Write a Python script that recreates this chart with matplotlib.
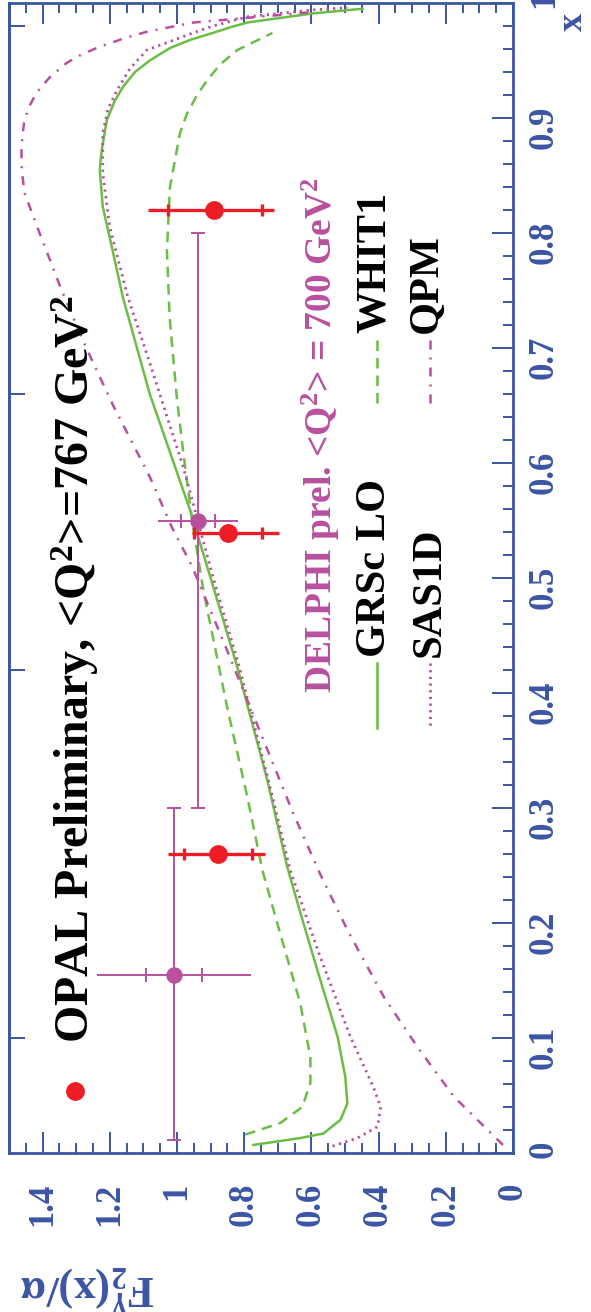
import numpy as np
import matplotlib
matplotlib.use('Agg')
from matplotlib import pyplot as plt
from matplotlib.ticker import MultipleLocator

plt.rcParams['font.family'] = ['Liberation Serif', 'DejaVu Serif']
plt.rcParams['font.weight'] = 'bold'
plt.rcParams['mathtext.fontset'] = 'custom'
plt.rcParams['mathtext.rm'] = 'Liberation Serif:bold'
plt.rcParams['mathtext.bf'] = 'Liberation Serif:bold'
plt.rcParams['mathtext.it'] = 'Liberation Serif:bold:italic'
plt.rcParams['mathtext.default'] = 'bf'

BLUE = '#3b55a5'
GREEN = '#6cbd45'
MAG = '#b8509e'
RED = '#ee1c24'

# theory curves, x vs F2/alpha
grsc_x = [0.007, 0.013, 0.017, 0.029, 0.043, 0.066, 0.101, 0.15, 0.209, 0.249, 0.324, 0.423,
          0.501, 0.559, 0.66, 0.744, 0.788, 0.823, 0.855, 0.872, 0.898, 0.915, 0.927, 0.940,
          0.950, 0.961, 0.968, 0.974, 0.979, 0.983, 0.987, 0.991, 0.995]
grsc_f2 = [0.773, 0.633, 0.564, 0.513, 0.493, 0.499, 0.522, 0.573, 0.633, 0.672, 0.731, 0.821,
           0.901, 0.961, 1.081, 1.161, 1.194, 1.221, 1.230, 1.224, 1.209, 1.185, 1.161, 1.125,
           1.081, 1.02, 0.96, 0.893, 0.84, 0.791, 0.693, 0.594, 0.448]

whit_x = [0.016, 0.026, 0.04, 0.061, 0.083, 0.13, 0.191, 0.246, 0.31, 0.388, 0.49, 0.55, 0.611,
          0.655, 0.727, 0.785, 0.84, 0.887, 0.904, 0.92, 0.933, 0.947, 0.959, 0.974]
whit_f2 = [0.797, 0.693, 0.627, 0.603, 0.603, 0.633, 0.693, 0.746, 0.791, 0.851, 0.922, 0.955,
           0.982, 1.0, 1.022, 1.03, 1.021, 0.991, 0.97, 0.94, 0.91, 0.87, 0.821, 0.716]

sas_x = [0.006, 0.013, 0.023, 0.04, 0.057, 0.101, 0.177, 0.246, 0.324, 0.423, 0.5, 0.597, 0.687,
         0.744, 0.805, 0.852, 0.887, 0.908, 0.924, 0.943, 0.959, 0.974, 0.98, 0.988, 0.991,
         0.994, 0.996]
sas_f2 = [0.537, 0.463, 0.403, 0.394, 0.415, 0.484, 0.582, 0.663, 0.728, 0.815, 0.892, 0.982,
          1.081, 1.146, 1.2, 1.221, 1.221, 1.205, 1.179, 1.14, 1.09, 0.952, 0.893, 0.791, 0.693,
          0.594, 0.493]

qpm_x = [0.007, 0.049, 0.092, 0.136, 0.194, 0.242, 0.296, 0.368, 0.44, 0.51, 0.544, 0.588, 0.65,
         0.70, 0.75, 0.80, 0.835, 0.855, 0.872, 0.885, 0.898, 0.91, 0.922, 0.935, 0.948, 0.955,
         0.962, 0.969, 0.975, 0.983, 0.992]
qpm_f2 = [0.03, 0.176, 0.284, 0.385, 0.493, 0.573, 0.655, 0.755, 0.855, 0.955, 1.015, 1.081, 1.19,
          1.27, 1.343, 1.409, 1.454, 1.462, 1.463, 1.46, 1.454, 1.44, 1.418, 1.38, 1.328, 1.285,
          1.23, 1.16, 1.09, 0.952, 0.6]

# OPAL data
opal_x = np.array([0.26, 0.539, 0.82])
opal_f2 = np.array([0.878, 0.848, 0.89])
opal_tot_lo = np.array([0.141, 0.152, 0.179])
opal_tot_hi = np.array([0.149, 0.107, 0.197])
opal_stat_lo = np.array([0.102, 0.102, 0.144])
opal_stat_hi = np.array([0.101, 0.101, 0.137])

# DELPHI data
delphi_x = np.array([0.155, 0.55])
delphi_x_lo = np.array([0.011, 0.30])
delphi_x_hi = np.array([0.30, 0.80])
delphi_f2 = np.array([1.009, 0.937])
delphi_tot = np.array([0.23, 0.12])
delphi_stat = np.array([0.084, 0.05])

f2_ticks = [0, 0.2, 0.4, 0.6, 0.8, 1.0, 1.2, 1.4]
f2_labels = ['0', '0.2', '0.4', '0.6', '0.8', '1', '1.2', '1.4']
x_ticks = [0, 0.1, 0.2, 0.3, 0.4, 0.5, 0.6, 0.7, 0.8, 0.9, 1.0]
x_labels = ['0', '0.1', '0.2', '0.3', '0.4', '0.5', '0.6', '0.7', '0.8', '0.9', '1']
left_ticks = [0.1, 0.42, 0.66, 0.98]

DOT = (0, (0.8, 1.6))
DASH = (0, (4.2, 2.8))
DASHDOT = (0, (3.6, 3.2, 0.8, 3.2))
LW = 1.8

fig = plt.figure(figsize=(5.91, 13.12), dpi=100)
ax = fig.add_axes([9 / 591, 159 / 1312, 504 / 591, 1150 / 1312])
ax.set_xlim(1.5, 0)
ax.set_ylim(0, 1)

ax.plot(grsc_f2, grsc_x, color=GREEN, lw=LW)
ax.plot(whit_f2, whit_x, color=GREEN, lw=LW, ls=DASH)
ax.plot(sas_f2, sas_x, color=MAG, lw=2.0, ls=DOT)
ax.plot(qpm_f2, qpm_x, color=MAG, lw=LW, ls=DASHDOT)

# DELPHI points
ax.errorbar(delphi_f2, delphi_x, yerr=[delphi_x - delphi_x_lo, delphi_x_hi - delphi_x],
            fmt='none', ecolor=MAG, elinewidth=1.4, capsize=5, capthick=1.4)
ax.errorbar(delphi_f2, delphi_x, xerr=delphi_tot, fmt='o', color=MAG, ms=10.8,
            elinewidth=1.4, capsize=0)
ax.plot(np.r_[delphi_f2 - delphi_stat, delphi_f2 + delphi_stat], np.r_[delphi_x, delphi_x],
        ls='none', marker='|', ms=9.5, mew=1.4, color=MAG)

# OPAL points
ax.errorbar(opal_f2, opal_x, xerr=[opal_tot_lo, opal_tot_hi], fmt='o', color=RED, ms=12.5,
            elinewidth=2.4, capsize=0, zorder=5)
ax.plot(np.r_[opal_f2 - opal_stat_lo, opal_f2 + opal_stat_hi], np.r_[opal_x, opal_x],
        ls='none', marker='|', ms=9, mew=2.4, color=RED, zorder=5)

# axes styling
for s in ax.spines.values():
    s.set_color(BLUE)
    s.set_linewidth(2)
ax.set_xticks(f2_ticks, labels=f2_labels)
ax.xaxis.set_minor_locator(MultipleLocator(0.05))
ax.set_yticks(x_ticks, labels=x_labels)
ax.yaxis.set_minor_locator(MultipleLocator(0.02))
ax.tick_params(axis='both', which='both', direction='in', color=BLUE, width=1.4,
               labelcolor=BLUE, labelsize=25)
ax.tick_params(axis='both', which='major', length=15)
ax.tick_params(axis='both', which='minor', length=7.5)
ax.tick_params(axis='x', which='both', top=True, bottom=True)
ax.tick_params(axis='x', which='major', labelrotation=90, pad=21.6)
ax.tick_params(axis='y', which='both', left=False, right=True, labelleft=False,
               labelright=True)
ax.tick_params(axis='y', which='major', labelrotation=90, pad=10.8)

sec = ax.secondary_yaxis('left')
sec.set_yticks(left_ticks, labels=[''] * len(left_ticks))
sec.tick_params(direction='in', length=11.5, width=1.4, color=BLUE)
sec.spines['left'].set_color(BLUE)
sec.spines['left'].set_linewidth(2)

# legend
ax.plot([0.131], [0.0539], 'o', color=RED, ms=12.5, transform=ax.transAxes, clip_on=False)
ax.text(0.159, 0.0957, r'OPAL Preliminary, <Q$^{2}$>=767 GeV$^{2}$', transform=ax.transAxes,
        rotation=90, rotation_mode='anchor', ha='left', va='baseline', fontsize=34.5,
        color='black')
ax.text(0.641, 0.40, r'DELPHI prel. <Q$^{2}$> = 700 GeV$^{2}$', transform=ax.transAxes,
        rotation=90, rotation_mode='anchor', ha='left', va='baseline', fontsize=27, color=MAG)

ax.plot([0.730, 0.730], [0.426, 0.370], color=GREEN, lw=LW, transform=ax.transAxes)
ax.plot([0.835, 0.835], [0.426, 0.370], color=MAG, lw=2.0, ls=DOT, transform=ax.transAxes)
ax.plot([0.730, 0.730], [0.707, 0.652], color=GREEN, lw=LW, ls=DASH, transform=ax.transAxes)
ax.plot([0.835, 0.835], [0.707, 0.652], color=MAG, lw=LW, ls=DASHDOT, transform=ax.transAxes)
for tx, ty, lab in [(0.746, 0.431, 'GRSc LO'), (0.855, 0.431, 'SAS1D'),
                    (0.746, 0.713, 'WHIT1'), (0.849, 0.713, 'QPM')]:
    ax.text(tx, ty, lab, transform=ax.transAxes, rotation=90, rotation_mode='anchor',
            ha='left', va='baseline', fontsize=30.5, color='black')

fig.text(88 / 591, 1 - 1288 / 1312, r'F$_{2}^{\gamma}$(x)/$\alpha$', rotation=180,
         ha='center', va='center', fontsize=32, color=BLUE)
fig.text(573 / 591, 1 - 22 / 1312, 'x', rotation=90, ha='center', va='center',
         fontsize=26, color=BLUE)

fig.savefig('out.png', dpi=100)
